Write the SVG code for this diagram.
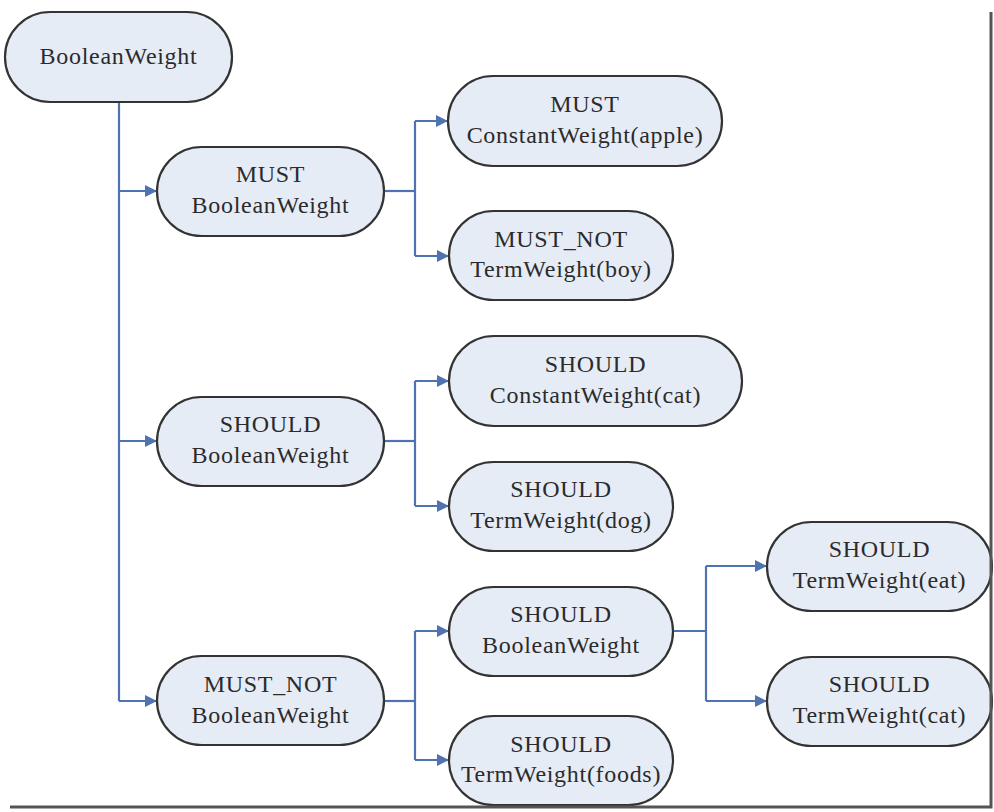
<svg xmlns="http://www.w3.org/2000/svg" width="994" height="812" viewBox="0 0 994 812">
<style>
  .node rect { fill: #e6ecf6; stroke: #333333; stroke-width: 2.2; }
  .node text { font-family: 'Liberation Serif', 'Times New Roman', 'DejaVu Serif', serif; font-size: 24px; letter-spacing: 0.7px; fill: #2b2b2b; text-anchor: middle; }
  .conn path { fill: none; stroke: #4f73b0; stroke-width: 2.2; }
  .frame { stroke: #555555; stroke-width: 3; fill: none; }
</style>
<defs>
  <marker id="arrow" viewBox="0 0 10 10" refX="10" refY="5" markerWidth="13" markerHeight="12" markerUnits="userSpaceOnUse" orient="auto">
    <path d="M0,0 L10,5 L0,10 z" fill="#4f73b0"/>
  </marker>
</defs>
<rect x="0" y="0" width="994" height="812" fill="#ffffff"/>

<g id="connectors" class="conn">
  <path d="M119,102 V701"/>
  <path d="M119,191 H157" marker-end="url(#arrow)"/>
  <path d="M119,441 H157" marker-end="url(#arrow)"/>
  <path d="M119,701 H157" marker-end="url(#arrow)"/>

  <path d="M384,191 H415"/>
  <path d="M415,121 V256"/>
  <path d="M415,121 H448" marker-end="url(#arrow)"/>
  <path d="M415,256 H449" marker-end="url(#arrow)"/>

  <path d="M384,441 H415"/>
  <path d="M415,381 V506"/>
  <path d="M415,381 H449" marker-end="url(#arrow)"/>
  <path d="M415,506 H449" marker-end="url(#arrow)"/>

  <path d="M384,701 H415"/>
  <path d="M415,631 V760"/>
  <path d="M415,631 H449" marker-end="url(#arrow)"/>
  <path d="M415,760 H449" marker-end="url(#arrow)"/>

  <path d="M673,631 H706"/>
  <path d="M706,566 V701"/>
  <path d="M706,566 H767" marker-end="url(#arrow)"/>
  <path d="M706,701 H767" marker-end="url(#arrow)"/>
</g>

<g id="root" class="node">
  <rect x="5" y="12" width="227" height="90" rx="45" ry="45"/>
  <text x="118.5" y="64">BooleanWeight</text>
</g>

<g id="must_bw" class="node">
  <rect x="157" y="147" width="227" height="89" rx="44.5" ry="44.5"/>
  <text x="270.5" y="182">MUST</text>
  <text x="270.5" y="213">BooleanWeight</text>
</g>

<g id="must_apple" class="node">
  <rect x="448" y="76" width="274" height="90" rx="45" ry="45"/>
  <text x="585" y="112">MUST</text>
  <text x="585" y="143">ConstantWeight(apple)</text>
</g>

<g id="mustnot_boy" class="node">
  <rect x="449" y="211" width="224" height="89" rx="44.5" ry="44.5"/>
  <text x="561" y="247">MUST_NOT</text>
  <text x="561" y="277">TermWeight(boy)</text>
</g>

<g id="should_bw" class="node">
  <rect x="157" y="397" width="227" height="89" rx="44.5" ry="44.5"/>
  <text x="270.5" y="432">SHOULD</text>
  <text x="270.5" y="463">BooleanWeight</text>
</g>

<g id="should_ccat" class="node">
  <rect x="449" y="336" width="293" height="90" rx="45" ry="45"/>
  <text x="595.5" y="372">SHOULD</text>
  <text x="595.5" y="403">ConstantWeight(cat)</text>
</g>

<g id="should_dog" class="node">
  <rect x="449" y="462" width="224" height="89" rx="44.5" ry="44.5"/>
  <text x="561" y="497">SHOULD</text>
  <text x="561" y="528">TermWeight(dog)</text>
</g>

<g id="mustnot_bw" class="node">
  <rect x="157" y="656" width="227" height="89" rx="44.5" ry="44.5"/>
  <text x="270.5" y="692">MUST_NOT</text>
  <text x="270.5" y="723">BooleanWeight</text>
</g>

<g id="should_bw2" class="node">
  <rect x="449" y="587" width="224" height="89" rx="44.5" ry="44.5"/>
  <text x="561" y="622">SHOULD</text>
  <text x="561" y="653">BooleanWeight</text>
</g>

<g id="should_foods" class="node">
  <rect x="449" y="716" width="224" height="89" rx="44.5" ry="44.5"/>
  <text x="561" y="752">SHOULD</text>
  <text x="561" y="782">TermWeight(foods)</text>
</g>

<g id="should_eat" class="node">
  <rect x="767" y="522" width="225" height="89" rx="44.5" ry="44.5"/>
  <text x="879.5" y="557">SHOULD</text>
  <text x="879.5" y="588">TermWeight(eat)</text>
</g>

<g id="should_tcat" class="node">
  <rect x="767" y="657" width="225" height="89" rx="44.5" ry="44.5"/>
  <text x="879.5" y="692">SHOULD</text>
  <text x="879.5" y="723">TermWeight(cat)</text>
</g>

<path class="frame" d="M991,12 V807 H10"/>
</svg>
